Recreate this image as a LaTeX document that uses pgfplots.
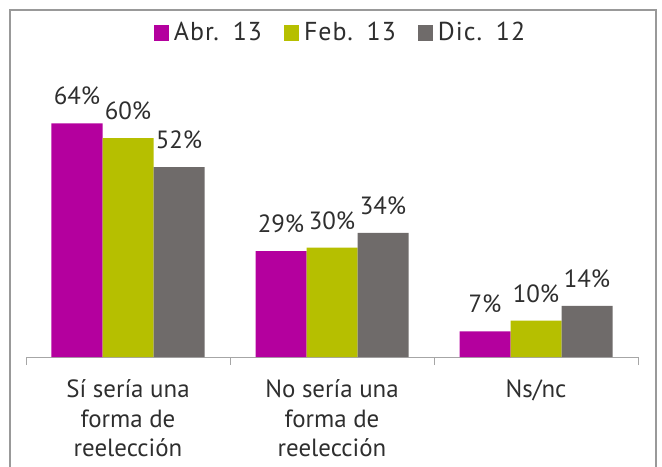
\documentclass[border=0pt]{standalone}
\usepackage{fontspec}
\setmainfont{PT Sans}
\newfontfamily\legfont{PT Sans}[LetterSpace=4,WordSpace=1.4]
\usepackage{pgfplots}
\pgfplotsset{compat=1.18}
\definecolor{cMag}{HTML}{B4009E}
\definecolor{cGrn}{HTML}{B6BF00}
\definecolor{cGry}{HTML}{6F6B6A}
\definecolor{cTxt}{HTML}{2E2E2E}
\definecolor{cAx}{HTML}{A6A6A6}
\definecolor{cFrame}{HTML}{999999}
\begin{document}
\begin{tikzpicture}
\useasboundingbox (-26bp,-110bp) rectangle (636bp,357bp);
\draw[cFrame, line width=1.3bp] (-16bp,-115bp) rectangle (630bp,347bp);
\begin{axis}[
  at={(0,0)}, anchor=south west,
  scale only axis, width=612bp, height=255.5bp,
  xmin=-0.5, xmax=2.5, ymin=0, ymax=70,
  axis x line=bottom, axis y line=none,
  axis line style={cAx, line width=1bp, -},
  ybar=0pt, bar width=51bp,
  xtick={0,1,2},
  xticklabels={{\strut S\'i ser\'ia una\\forma de\\reelecci\'on},{\strut No ser\'ia una\\forma de\\reelecci\'on},{\strut Ns/nc}},
  major tick length=0pt,
  extra x ticks={-0.5,0.5,1.5,2.5}, extra x tick labels={},
  extra x tick style={major tick length=8bp, tick align=outside, tick style={cAx, line width=1bp}},
  xticklabel style={font=\fontsize{25}{30}\selectfont, text=cTxt, align=center, anchor=north, inner sep=0pt, yshift=-19bp},
  nodes near coords={\pgfmathprintnumber{\pgfplotspointmeta}\%},
  every node near coord/.append style={font=\fontsize{25}{30}\selectfont, text=cTxt, inner sep=0pt, anchor=south, yshift=18bp},
  /pgf/number format/assume math mode=true,
  legend columns=3,
  legend style={at={(0.514,1.27)}, anchor=center, draw=none, fill=none, font=\legfont\fontsize{26}{30}\selectfont, text=cTxt,
    /tikz/every odd column/.append style={column sep=3bp},
    /tikz/every even column/.append style={column sep=20bp}},
  legend image code/.code={\fill[#1] (0bp,-8bp) rectangle (15bp,8bp);},
]
\addplot[fill=cMag, draw=none] coordinates {(0,64) (1,29) (2,7)};
\addplot[fill=cGrn, draw=none] coordinates {(0,60) (1,30) (2,10)};
\addplot[fill=cGry, draw=none] coordinates {(0,52) (1,34) (2,14)};
\legend{Abr. 13, Feb. 13, Dic. 12}
\end{axis}
\end{tikzpicture}
\end{document}
